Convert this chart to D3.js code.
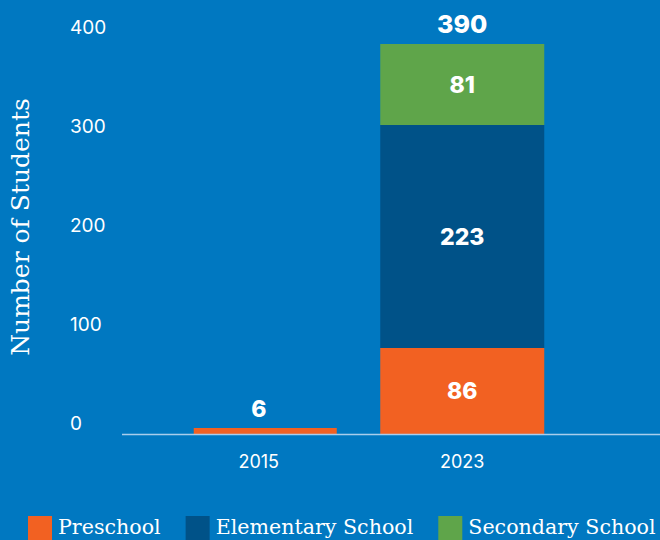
<!DOCTYPE html>
<html>
<head>
<meta charset="UTF-8">
<title>Number of Students</title>
<script src="https://cdn.jsdelivr.net/npm/d3@7"></script>
<style>
  html, body { margin: 0; padding: 0; background: #0078c1; }
  svg { display: block; }
</style>
</head>
<body>
<div id="chart"></div>
<script>
// data
var years = ["2015", "2023"];
var series = ["Preschool", "Elementary School", "Secondary School"];
var preschool = [6, 86];
var elementary = [0, 223];
var secondary = [0, 81];
var yTicks = [0, 100, 200, 300, 400];

var colors = ["#f26122", "#005288", "#5fa54a"];
var w = 660, h = 540;

var svg = d3.select("#chart").append("svg")
    .attr("width", w)
    .attr("height", h);

svg.append("rect").attr("width", w).attr("height", h).attr("fill", "#0078c1");

var y = d3.scaleLinear().domain([0, 400]).range([434, 34]);
// tick labels sit a little above their values
var yLab = d3.scaleLinear().domain([0, 400]).range([423, 27]);
var x = d3.scaleBand().domain(years).range([157, 564]).paddingInner(0);

// the 2015 bar is drawn a bit narrower than the 2023 one
var barBox = { "2015": { dx: -65, w: 143 }, "2023": { dx: -82, w: 164 } };

var rows = years.map(function(yr, i) {
  return { year: yr, Preschool: preschool[i], "Elementary School": elementary[i], "Secondary School": secondary[i] };
});
var stacked = d3.stack().keys(series)(rows);

// y tick labels (no axis line)
svg.selectAll(".ytick").data(yTicks).enter().append("text")
    .attr("x", 70)
    .attr("y", function(d) { return yLab(d); })
    .attr("dy", "0.35em")
    .attr("fill", "#fff")
    .style("font-family", "Inter, 'Open Sans', sans-serif")
    .style("font-size", "19px")
    .text(function(d) { return d; });

// axis title
svg.append("text")
    .attr("transform", "translate(29,227) rotate(-90)")
    .attr("text-anchor", "middle")
    .attr("fill", "#fff")
    .style("font-family", "'DejaVu Serif', serif")
    .style("font-size", "25px")
    .text("Number of Students");

// bars
stacked.forEach(function(layer, k) {
  svg.selectAll(".bar" + k).data(layer.filter(function(d) { return d[1] - d[0] > 0; }))
    .enter().append("rect")
      .attr("x", function(d) { var yr = d.data.year; return x(yr) + x.bandwidth() / 2 + barBox[yr].dx; })
      .attr("width", function(d) { return barBox[d.data.year].w; })
      .attr("y", function(d) { return y(d[1]); })
      .attr("height", function(d) { return y(d[0]) - y(d[1]); })
      .attr("fill", colors[k]);
});

// baseline
svg.append("line")
    .attr("x1", 122).attr("x2", 660)
    .attr("y1", y(0) + 0.5).attr("y2", y(0) + 0.5)
    .attr("stroke", "#a9cdec")
    .attr("stroke-width", 1.5);

// x labels
svg.selectAll(".xlab").data(years).enter().append("text")
    .attr("x", function(d) { return x(d) + x.bandwidth() / 2; })
    .attr("y", 468)
    .attr("text-anchor", "middle")
    .attr("fill", "#fff")
    .style("font-family", "Inter, 'Open Sans', sans-serif")
    .style("font-size", "18px")
    .text(function(d) { return d; });

var valFont = "Inter, 'Open Sans', sans-serif";
// segment labels inside the 2023 stack
stacked.forEach(function(layer, k) {
  var d = layer[1];
  svg.append("text")
      .attr("x", x("2023") + x.bandwidth() / 2)
      .attr("y", (y(d[0]) + y(d[1])) / 2)
      .attr("dy", "0.36em")
      .attr("text-anchor", "middle")
      .attr("fill", "#fff")
      .style("font-family", valFont)
      .style("font-weight", 800)
      .style("font-size", "23px")
      .text(d[1] - d[0]);
});

// labels above the bars
years.forEach(function(yr, i) {
  var total = preschool[i] + elementary[i] + secondary[i];
  svg.append("text")
      .attr("x", x(yr) + x.bandwidth() / 2)
      .attr("y", y(total) - 11)
      .attr("text-anchor", "middle")
      .attr("fill", "#fff")
      .style("font-family", valFont)
      .style("font-weight", 800)
      .style("font-size", i === 1 ? "25px" : "23px")
      .text(total);
});

// legend
var lx = 28;
series.forEach(function(s, k) {
  svg.append("rect")
      .attr("x", lx).attr("y", 516)
      .attr("width", 24).attr("height", 24)
      .attr("fill", colors[k]);
  var t = svg.append("text")
      .attr("x", lx + 30)
      .attr("y", 534)
      .attr("fill", "#fff")
      .style("font-family", "'DejaVu Serif', serif")
      .style("font-size", "20.6px")
      .text(s);
  lx += 30 + t.node().getComputedTextLength() + 25;
});
</script>
</body>
</html>
